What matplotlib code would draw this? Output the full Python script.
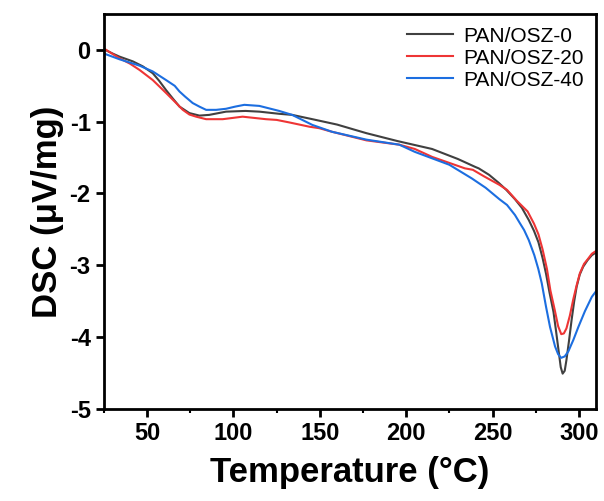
import numpy as np
import matplotlib
matplotlib.use("Agg")
import matplotlib.pyplot as plt
from matplotlib.ticker import MultipleLocator

# DSC curves (temperature in °C, heat flow in µV/mg)
t_osz0 = [25, 30, 34, 41.8, 47.6, 53.3, 57, 61, 65, 68.8, 74.5, 80.3, 86, 95.7, 107,
          115, 126.5, 134, 145.7, 160, 177, 195, 215, 230, 240, 242, 248, 253.5, 258,
          263, 267, 271, 274, 276.6, 279, 281, 283, 285.3, 286.8, 288.2, 289.5, 290.6,
          291.8, 292.8, 294.3, 295.8, 297.3, 298.7, 300.5, 302.5, 305, 307.5, 310]
dsc_osz0 = [0.01, -0.05, -0.093, -0.16, -0.23, -0.325, -0.43, -0.56, -0.68, -0.79,
            -0.88, -0.915, -0.905, -0.86, -0.85, -0.86, -0.89, -0.905, -0.965, -1.04,
            -1.16, -1.27, -1.38, -1.52, -1.63, -1.65, -1.74, -1.85, -1.95, -2.08,
            -2.20, -2.37, -2.52, -2.68, -2.90, -3.12, -3.38, -3.65, -3.92, -4.18,
            -4.42, -4.51, -4.47, -4.32, -4.05, -3.76, -3.50, -3.30, -3.13, -3.02,
            -2.93, -2.86, -2.82]

t_osz20 = [25, 34, 40, 45.7, 53.3, 61, 66, 70.7, 74.5, 78.4, 84.2, 93.8, 105.3, 118.8,
           125, 132.3, 144, 149.6, 157, 177, 196, 205, 215, 234, 238.6, 245, 254,
           258.4, 264, 270.3, 274, 276.6, 279, 281.5, 283.5, 286, 288, 289.8, 291.3,
           292.8, 294.8, 296.7, 298.7, 300.6, 303, 305, 307.5, 310]
dsc_osz20 = [0.02, -0.116, -0.19, -0.28, -0.42, -0.60, -0.72, -0.835, -0.90, -0.93,
             -0.965, -0.965, -0.93, -0.965, -0.975, -1.01, -1.07, -1.09, -1.14, -1.26,
             -1.32, -1.38, -1.49, -1.65, -1.67, -1.76, -1.88, -1.95, -2.10, -2.25,
             -2.42, -2.57, -2.78, -3.05, -3.35, -3.62, -3.85, -3.96, -3.95, -3.88,
             -3.70, -3.48, -3.28, -3.11, -2.98, -2.92, -2.84, -2.80]

t_osz40 = [25, 34, 45.7, 53.3, 61, 66, 68.8, 72, 76.4, 80.3, 84.2, 90, 95.7, 101,
           106.3, 115, 126.5, 134, 145.7, 157, 177, 196, 205, 215, 225, 238, 246, 254,
           258.4, 263, 266, 268.3, 271, 274.2, 276.5, 278.5, 281, 283.3, 286.2, 288,
           289.7, 291.8, 293.9, 296.8, 299.7, 303.5, 307.5, 310]
dsc_osz40 = [-0.05, -0.13, -0.22, -0.30, -0.42, -0.50, -0.58, -0.65, -0.74, -0.79,
             -0.835, -0.835, -0.82, -0.79, -0.765, -0.78, -0.85, -0.905, -1.045,
             -1.14, -1.25, -1.32, -1.42, -1.51, -1.60, -1.79, -1.92, -2.08, -2.16,
             -2.30, -2.42, -2.51, -2.65, -2.86, -3.05, -3.25, -3.58, -3.86, -4.13,
             -4.24, -4.29, -4.27, -4.20, -4.04, -3.86, -3.64, -3.44, -3.36]

labels = ['PAN/OSZ-0', 'PAN/OSZ-20', 'PAN/OSZ-40']
colors = ['#404040', '#ee3535', '#1c6ee0']

plt.rcParams['font.family'] = ['Liberation Sans', 'DejaVu Sans']
plt.rcParams['axes.unicode_minus'] = False

fig = plt.figure(figsize=(6.04, 5.01), dpi=100)
ax = fig.add_axes([0.172, 0.184, 0.815, 0.788])

series = [(t_osz0, dsc_osz0), (t_osz20, dsc_osz20), (t_osz40, dsc_osz40)]
for (t, d), lab, c in zip(series, labels, colors):
    ax.plot(t, d, color=c, lw=1.5, label=lab)

ax.set_xlim(25, 310)
ax.set_ylim(-5, 0.5)
ax.xaxis.set_major_locator(MultipleLocator(50))
ax.xaxis.set_minor_locator(MultipleLocator(25))
ax.yaxis.set_major_locator(MultipleLocator(1))

for s in ax.spines.values():
    s.set_linewidth(2)
ax.tick_params(which='major', direction='out', length=6, width=2,
               labelsize=17, top=False, right=False)
ax.tick_params(which='minor', direction='out', length=3, width=1.5,
               top=False, right=False)
for lbl in ax.get_xticklabels() + ax.get_yticklabels():
    lbl.set_fontweight('bold')

ax.set_xlabel('Temperature (°C)', fontsize=25, fontweight='bold', labelpad=8)
ax.set_ylabel('DSC (μV/mg)', fontsize=25, fontweight='bold', labelpad=4)

ax.legend(loc='upper right', frameon=False, fontsize=15, handlelength=2.2,
          labelspacing=0.15, borderaxespad=0.2, handletextpad=0.5)

fig.savefig('out.png', dpi=100)
plt.close(fig)
